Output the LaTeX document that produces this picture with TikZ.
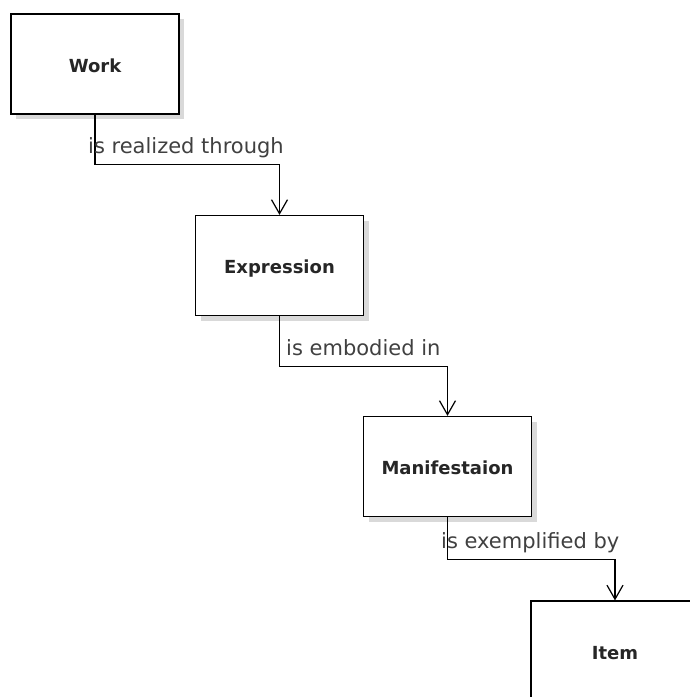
\documentclass[tikz,border=0pt]{standalone}
\usepackage{fontspec}
\setsansfont{DejaVu Sans}
\usetikzlibrary{arrows.meta,shadows}

\begin{document}
\begin{tikzpicture}[x=1pt,y=-1pt,
  entity/.style={draw,line width=1.2pt,fill=white,minimum width=168pt,minimum height=100pt,
    font=\sffamily\bfseries\fontsize{18}{20}\selectfont,text=black!85,
    text height=16pt,text depth=0pt,
    drop shadow={shadow xshift=5pt,shadow yshift=-5pt,fill=black!15,opacity=1}},
  rel/.style={font=\sffamily\fontsize{21}{24}\selectfont,text=black!75,inner sep=0pt,anchor=base west},
  link/.style={line width=1.2pt,-{Straight Barb[length=14pt,width=16pt]}}]
\useasboundingbox (0,0) rectangle (690,697);
\clip (0,0) rectangle (690,697);

\node[entity] (work) at (95,64) {Work};
\node[entity] (expr) at (279.5,265.5) {Expression};
\node[entity] (manif) at (447.5,466.5) {Manifestaion};
\node[entity] (item) at (615,651) {Item};

\draw[link] (work.south) -- ++(0,50) -| (expr.north);
\draw[link] (expr.south) -- ++(0,50) -| (manif.north);
\draw[link] (manif.south) -- ++(0,42) -| (item.north);

\node[rel] (realized) at (88,153) {is realized through};
\node[rel] (embodied) at (286,355) {is embodied in};
\node[rel] (exemplified) at (441,548) {is exemplified by};

\end{tikzpicture}
\end{document}
